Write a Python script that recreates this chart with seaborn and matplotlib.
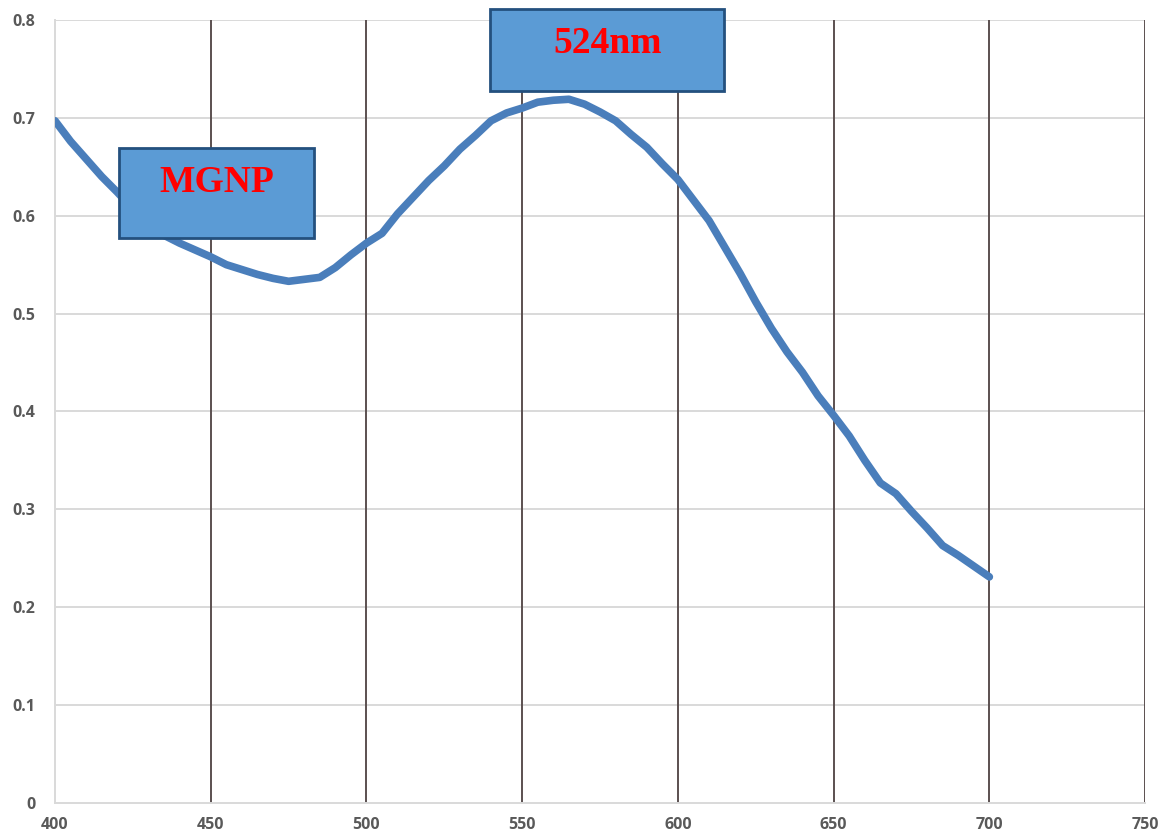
import matplotlib
matplotlib.use("Agg")
import matplotlib.pyplot as plt
from matplotlib.patches import Rectangle
import seaborn as sns
import pandas as pd

# Absorption spectrum of MGNP
wavelength = [400, 405, 410, 415, 420, 425, 430, 435, 440, 445,
              450, 455, 460, 465, 470, 475, 480, 485, 490, 495,
              500, 505, 510, 515, 520, 525, 530, 535, 540, 545,
              550, 555, 560, 565, 570, 575, 580, 585, 590, 595,
              600, 605, 610, 615, 620, 625, 630, 635, 640, 645,
              650, 655, 660, 665, 670, 675, 680, 685, 690, 695, 700]
absorbance = [0.697, 0.676, 0.658, 0.640, 0.624, 0.607, 0.592, 0.580, 0.572, 0.565,
              0.558, 0.550, 0.545, 0.540, 0.536, 0.533, 0.535, 0.537, 0.547, 0.560,
              0.572, 0.582, 0.602, 0.619, 0.636, 0.651, 0.668, 0.682, 0.697, 0.705,
              0.710, 0.716, 0.718, 0.719, 0.714, 0.706, 0.697, 0.683, 0.670, 0.653,
              0.637, 0.616, 0.595, 0.568, 0.541, 0.512, 0.485, 0.461, 0.440, 0.416,
              0.396, 0.375, 0.350, 0.327, 0.316, 0.298, 0.281, 0.263, 0.253, 0.242, 0.231]

x_ticks = [400, 450, 500, 550, 600, 650, 700, 750]
y_ticks = [0, 0.1, 0.2, 0.3, 0.4, 0.5, 0.6, 0.7, 0.8]
y_tick_labels = ["0", "0.1", "0.2", "0.3", "0.4", "0.5", "0.6", "0.7", "0.8"]

sample_label = "MGNP"
peak_label = "524nm"

sns.set_theme(style="white")

df = pd.DataFrame({"wavelength": wavelength, "absorbance": absorbance})

fig = plt.figure(figsize=(11.73, 8.36), dpi=100)
ax = fig.add_axes([0.0469, 0.0395, 0.9293, 0.9366])

# horizontal light grid
for yv in y_ticks[1:]:
    ax.axhline(yv, color="#d9d9d9", lw=1.4, zorder=0)
# vertical dark grid
for xv in x_ticks[1:]:
    ax.axvline(xv, color="#5b5050", lw=1.4, zorder=0)

sns.lineplot(data=df, x="wavelength", y="absorbance", ax=ax,
             color="#4a7ebb", lw=5.5, zorder=3, solid_capstyle="round")

ax.set_xlim(400, 750)
ax.set_ylim(0, 0.8)
ax.set_xticks(x_ticks)
ax.set_yticks(y_ticks)
ax.set_yticklabels(y_tick_labels)
ax.set_xlabel("")
ax.set_ylabel("")
ax.tick_params(axis="both", length=0, labelsize=11.5, labelcolor="#595959")
ax.tick_params(axis="y", pad=14)
ax.tick_params(axis="x", pad=10)
for lab in ax.get_xticklabels() + ax.get_yticklabels():
    lab.set_fontweight("bold")
    lab.set_fontfamily("Open Sans")

for side in ["top", "right"]:
    ax.spines[side].set_visible(False)
for side in ["left", "bottom"]:
    ax.spines[side].set_color("#d9d9d9")
    ax.spines[side].set_linewidth(1.4)

# label boxes
box_face = "#5b9bd5"
box_edge = "#24507e"
ax.add_patch(Rectangle((420.6, 0.577), 62.7, 0.092, facecolor=box_face,
                       edgecolor=box_edge, lw=2, zorder=5, clip_on=False))
ax.text(452.0, 0.634, sample_label, color="red", fontsize=27, fontweight="bold",
        fontfamily="Liberation Serif", ha="center", va="center", zorder=6)

ax.add_patch(Rectangle((539.7, 0.727), 75.2, 0.084, facecolor=box_face,
                       edgecolor=box_edge, lw=2, zorder=5, clip_on=False))
ax.text(577.3, 0.776, peak_label, color="red", fontsize=27, fontweight="bold",
        fontfamily="Liberation Serif", ha="center", va="center", zorder=6,
        clip_on=False)

fig.savefig("out.png", dpi=100)
